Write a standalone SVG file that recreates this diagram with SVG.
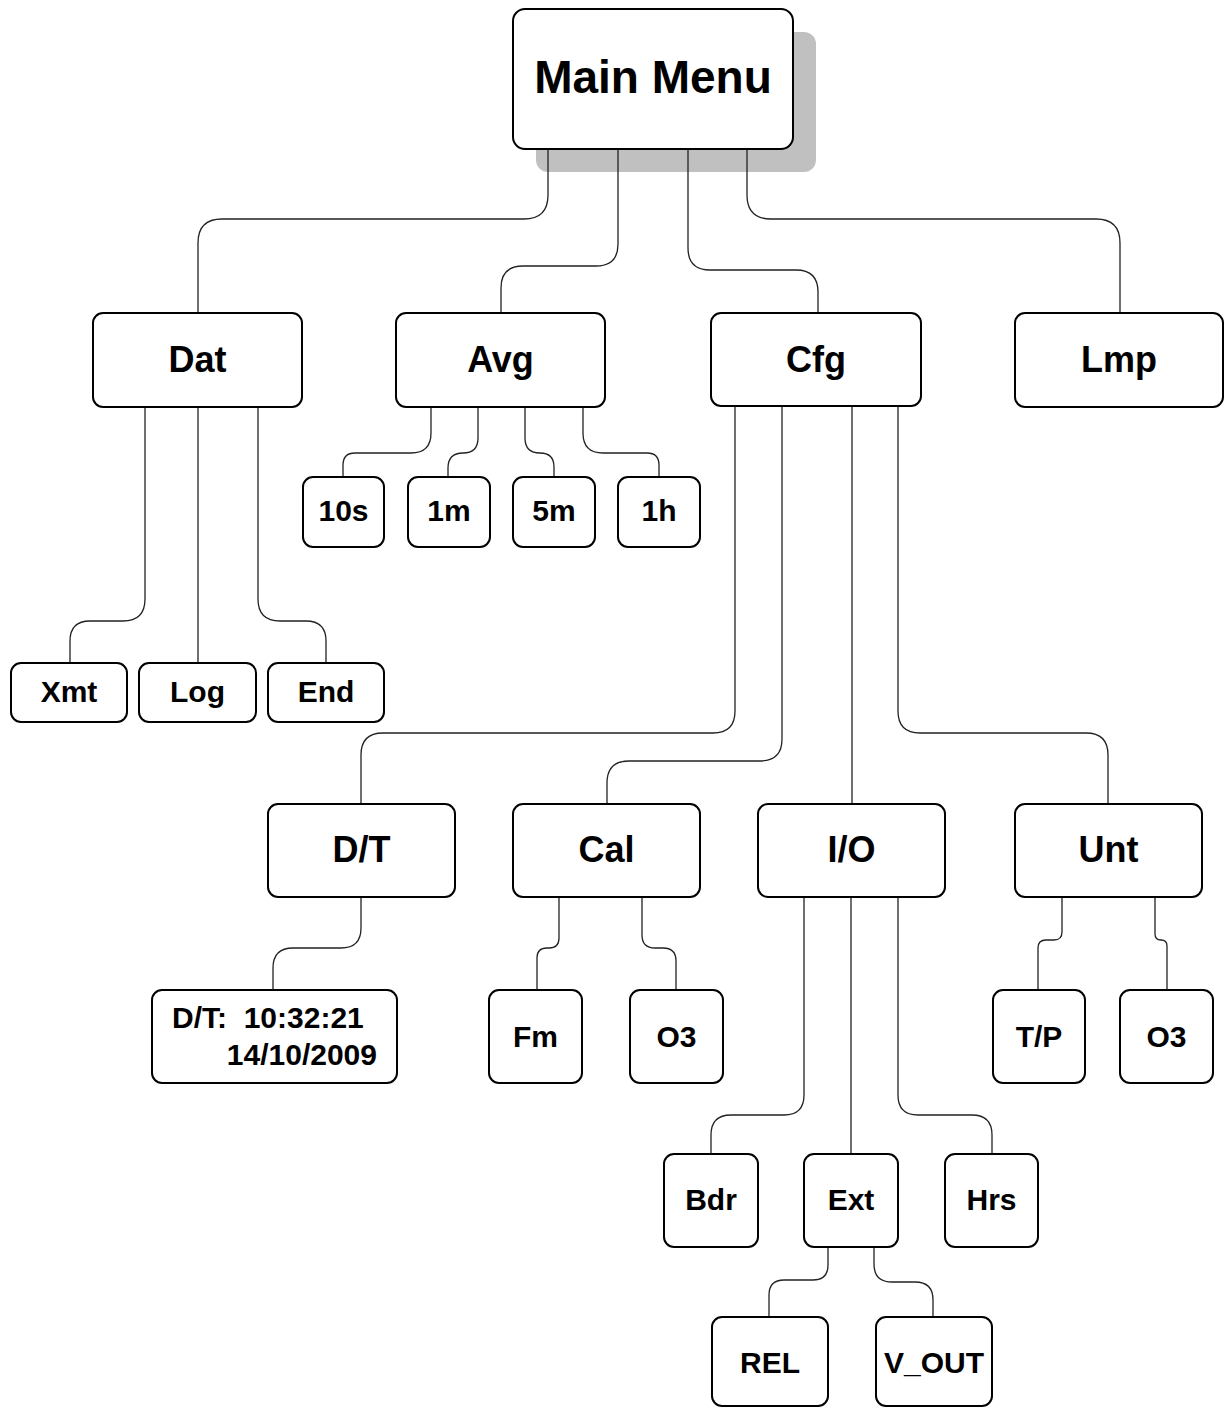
<svg xmlns="http://www.w3.org/2000/svg" width="1225" height="1408" viewBox="0 0 1225 1408">
<style>
.box{fill:#fff;stroke:#000;stroke-width:2}
.lbl{font-family:"Liberation Sans",Arial,sans-serif;font-weight:bold;font-size:30px;fill:#000;text-anchor:middle}
.mid{font-size:36px}
.big{font-size:46px}
.con path{fill:none;stroke:#222;stroke-width:1.3}
</style>
<rect width="1225" height="1408" fill="#fff"/>
<g id="connectors" class="con">
<path d="M548,149 V195 Q548,219 524,219 H222 Q198,219 198,243 V313"/>
<path d="M618,149 V244 Q618,266 596,266 H523 Q501,266 501,288 V313"/>
<path d="M688,149 V248 Q688,270 710,270 H796 Q818,270 818,292 V313"/>
<path d="M747,149 V195 Q747,219 771,219 H1096 Q1120,219 1120,243 V313"/>
<path d="M145,407 V599 Q145,621 123,621 H90 Q70,621 70,641 V663"/>
<path d="M198,407 V663"/>
<path d="M258,407 V599 Q258,621 280,621 H306 Q326,621 326,641 V663"/>
<path d="M431,407 V433 Q431,453 411,453 H355 Q343,453 343,465 V477"/>
<path d="M478,407 V438 Q478,453 463,453 Q448,453 448,468 V477"/>
<path d="M525,407 V438 Q525,453 540,453 Q554,453 554,467 V477"/>
<path d="M583,407 V433 Q583,453 603,453 H647 Q659,453 659,465 V477"/>
<path d="M735,406 V711 Q735,733 713,733 H383 Q361,733 361,755 V804"/>
<path d="M782,406 V739 Q782,761 760,761 H629 Q607,761 607,783 V804"/>
<path d="M852,406 V804"/>
<path d="M898,406 V711 Q898,733 920,733 H1086 Q1108,733 1108,755 V804"/>
<path d="M361,897 V928 Q361,948 341,948 H293 Q273,948 273,968 V990"/>
<path d="M559,897 V938 Q559,948 549,948 H547 Q537,948 537,958 V990"/>
<path d="M642,897 V935 Q642,948 655,948 H663 Q676,948 676,961 V990"/>
<path d="M1062,897 V932 Q1062,940 1054,940 H1046 Q1038,940 1038,948 V990"/>
<path d="M1155,897 V934 Q1155,940 1161,940 Q1167,940 1167,946 V990"/>
<path d="M804,897 V1095 Q804,1115 784,1115 H731 Q711,1115 711,1135 V1154"/>
<path d="M851,897 V1154"/>
<path d="M898,897 V1095 Q898,1115 918,1115 H972 Q992,1115 992,1135 V1154"/>
<path d="M828,1247 V1265 Q828,1280 813,1280 H784 Q769,1280 769,1295 V1317"/>
<path d="M874,1247 V1264 Q874,1282 892,1282 H915 Q933,1282 933,1300 V1317"/>
</g>
<g id="main-menu">
<rect x="536" y="32" width="280" height="140" rx="12" fill="#c0c0c0"/>
<path d="M548,149 V172 M618,149 V172 M688,149 V172 M747,149 V172" stroke="#222" stroke-width="1.3" fill="none"/>
<rect class="box" x="513" y="9" width="280" height="140" rx="12"/>
<text class="lbl big" x="653" y="93">Main Menu</text>
</g>
<g id="dat"><rect class="box" x="93" y="313" width="209" height="94" rx="10"/><text class="lbl mid" x="197.5" y="372">Dat</text></g>
<g id="avg"><rect class="box" x="396" y="313" width="209" height="94" rx="10"/><text class="lbl mid" x="500.5" y="372">Avg</text></g>
<g id="cfg"><rect class="box" x="711" y="313" width="210" height="93" rx="10"/><text class="lbl mid" x="816" y="372">Cfg</text></g>
<g id="lmp"><rect class="box" x="1015" y="313" width="208" height="94" rx="10"/><text class="lbl mid" x="1119" y="372">Lmp</text></g>
<g id="avg-10s"><rect class="box" x="303" y="477" width="81" height="70" rx="10"/><text class="lbl" x="343.5" y="521">10s</text></g>
<g id="avg-1m"><rect class="box" x="408" y="477" width="82" height="70" rx="10"/><text class="lbl" x="449" y="521">1m</text></g>
<g id="avg-5m"><rect class="box" x="513" y="477" width="82" height="70" rx="10"/><text class="lbl" x="554" y="521">5m</text></g>
<g id="avg-1h"><rect class="box" x="618" y="477" width="82" height="70" rx="10"/><text class="lbl" x="659" y="521">1h</text></g>
<g id="dat-xmt"><rect class="box" x="11" y="663" width="116" height="59" rx="10"/><text class="lbl" x="69" y="702">Xmt</text></g>
<g id="dat-log"><rect class="box" x="139" y="663" width="117" height="59" rx="10"/><text class="lbl" x="197.5" y="702">Log</text></g>
<g id="dat-end"><rect class="box" x="268" y="663" width="116" height="59" rx="10"/><text class="lbl" x="326" y="702">End</text></g>
<g id="dt"><rect class="box" x="268" y="804" width="187" height="93" rx="10"/><text class="lbl mid" x="361.5" y="862">D/T</text></g>
<g id="cal"><rect class="box" x="513" y="804" width="187" height="93" rx="10"/><text class="lbl mid" x="606.5" y="862">Cal</text></g>
<g id="io"><rect class="box" x="758" y="804" width="187" height="93" rx="10"/><text class="lbl mid" x="851.5" y="862">I/O</text></g>
<g id="unt"><rect class="box" x="1015" y="804" width="187" height="93" rx="10"/><text class="lbl mid" x="1108.5" y="862">Unt</text></g>
<g id="dt-value"><rect class="box" x="152" y="990" width="245" height="93" rx="10"/>
<text class="lbl" x="172" y="1028" style="text-anchor:start" xml:space="preserve">D/T:  10:32:21</text>
<text class="lbl" x="377" y="1065" style="text-anchor:end">14/10/2009</text></g>
<g id="cal-fm"><rect class="box" x="489" y="990" width="93" height="93" rx="10"/><text class="lbl" x="535.5" y="1047">Fm</text></g>
<g id="cal-o3"><rect class="box" x="630" y="990" width="93" height="93" rx="10"/><text class="lbl" x="676.5" y="1047">O3</text></g>
<g id="unt-tp"><rect class="box" x="993" y="990" width="92" height="93" rx="10"/><text class="lbl" x="1039" y="1047">T/P</text></g>
<g id="unt-o3"><rect class="box" x="1120" y="990" width="93" height="93" rx="10"/><text class="lbl" x="1166.5" y="1047">O3</text></g>
<g id="io-bdr"><rect class="box" x="664" y="1154" width="94" height="93" rx="10"/><text class="lbl" x="711" y="1210">Bdr</text></g>
<g id="io-ext"><rect class="box" x="804" y="1154" width="94" height="93" rx="10"/><text class="lbl" x="851" y="1210">Ext</text></g>
<g id="io-hrs"><rect class="box" x="945" y="1154" width="93" height="93" rx="10"/><text class="lbl" x="991.5" y="1210">Hrs</text></g>
<g id="ext-rel"><rect class="box" x="712" y="1317" width="116" height="89" rx="10"/><text class="lbl" x="770" y="1373">REL</text></g>
<g id="ext-vout"><rect class="box" x="876" y="1317" width="116" height="89" rx="10"/><text class="lbl" x="934" y="1373">V_OUT</text></g>
</svg>
